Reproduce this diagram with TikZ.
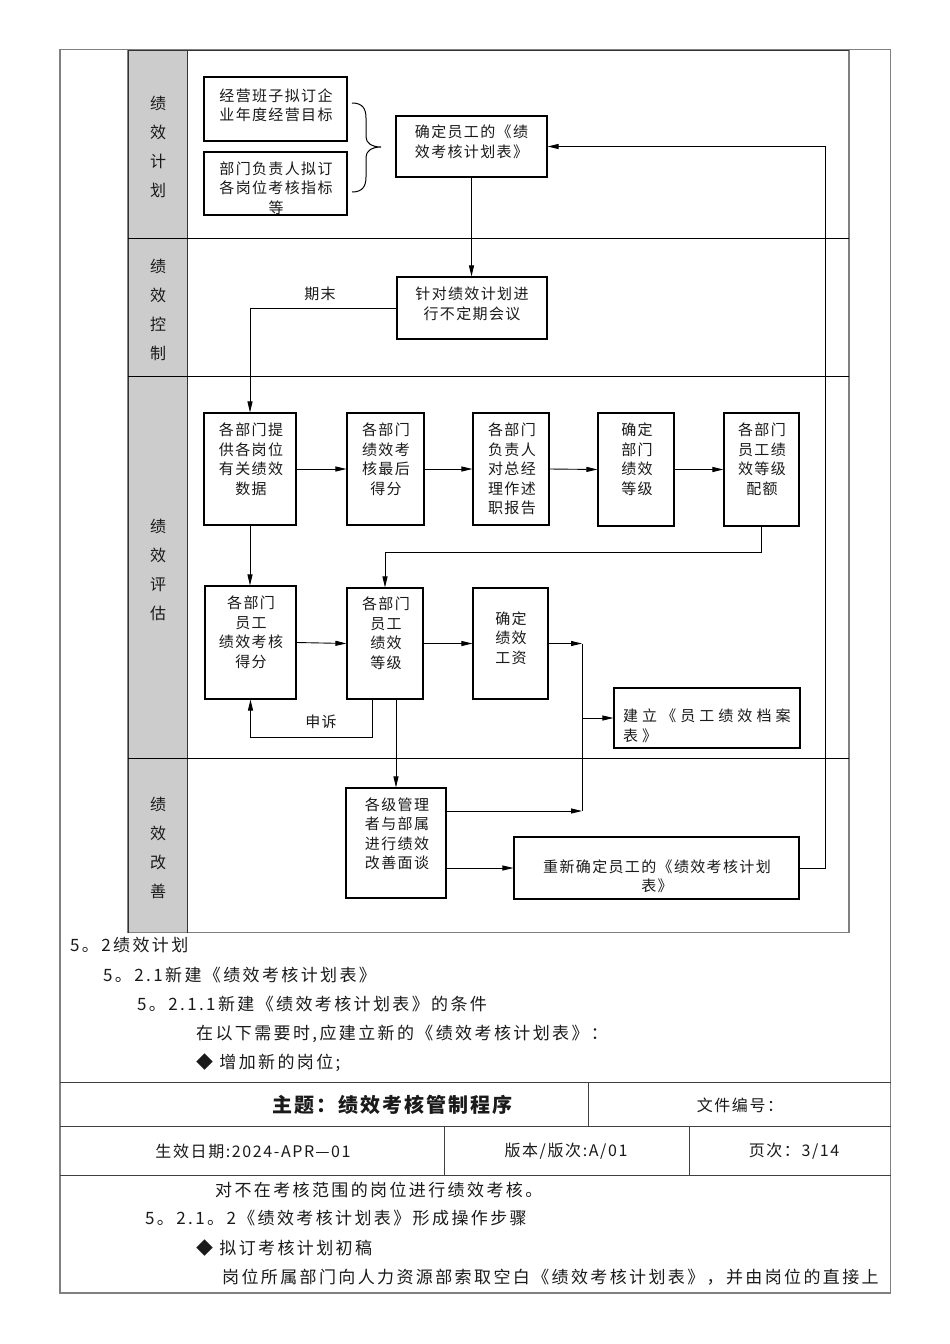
\documentclass[tikz,border=0pt]{standalone}
\usepackage{fontspec}
\setmainfont{Noto Sans CJK SC}
\newfontfamily\bodyf[LetterSpace=14]{Noto Sans CJK SC}
\newfontfamily\boxf[LetterSpace=9]{Noto Sans CJK SC}
\newfontfamily\widef[LetterSpace=27]{Noto Sans CJK SC}
\newfontfamily\headf[LetterSpace=10]{Noto Sans CJK SC}
\usetikzlibrary{arrows.meta,calc}
\definecolor{lanegray}{HTML}{CCCCCC}
\definecolor{framegray}{HTML}{808080}
\definecolor{ink}{HTML}{1A1A1A}
\begin{document}
\begin{tikzpicture}[x=1pt,y=-1pt,
  box/.style={draw=black, line width=1.1pt, inner sep=0pt, fill=white},
  txt/.style={inner sep=0pt, align=center, text=ink, font=\boxf\fontsize{15}{19.5}\selectfont},
  body/.style={anchor=west, inner sep=0pt, text=ink, font=\bodyf\fontsize{17}{20}\selectfont},
  hdr/.style={inner sep=0pt, text=ink, font=\headf\fontsize{16}{20}\selectfont},
  lane/.style={align=center, inner sep=0pt, text=ink, font=\fontsize{16}{29}\selectfont},
  conn/.style={line width=0.9pt, black},
  arr/.style={conn, -{Triangle[length=11pt,width=5pt]}},
  frameline/.style={draw=framegray, line width=1.3pt},
  rule/.style={draw=black!75, line width=1pt}
]
\useasboundingbox (0,0) rectangle (950,1344);
\fill[white] (0,0) rectangle (950,1344);

% ---------- page frame ----------
\draw[frameline] (60,49.5) rectangle (890.5,1293);
\draw[rule] (60,1082) -- (890.5,1082);
\draw[rule] (60,1126) -- (890.5,1126);
\draw[rule] (60,1175) -- (890.5,1175);
\draw[rule] (588,1082) -- (588,1126);
\draw[rule] (444,1126) -- (444,1175);
\draw[rule] (689,1126) -- (689,1175);

% ---------- swimlane frame ----------
\fill[lanegray] (128,50) rectangle (187,932.5);
\draw[frameline] (128,50) rectangle (849,932.5);
\draw[black!80, line width=1pt] (128,50) -- (849,50);
\draw[black!80, line width=1pt] (128,50) -- (128,932.5);
\draw[black!80, line width=1pt] (187,50) -- (187,932.5);
\draw[black, line width=1pt] (128,238) -- (849,238);
\draw[black, line width=1pt] (128,376) -- (849,376);
\draw[black, line width=1pt] (128,758) -- (849,758);

\node[lane] (l1) at (158,146.5) {绩\\效\\计\\划};
\node[lane] (l2) at (158,309.5) {绩\\效\\控\\制};
\node[lane] (l3) at (158,569.5) {绩\\效\\评\\估};
\node[lane] (l4) at (158,847.5) {绩\\效\\改\\善};

% ---------- boxes ----------
\node[box, minimum width=143pt, minimum height=64pt] (a1) at (275.5,109) {};
\node[box, minimum width=143pt, minimum height=63pt] (a2) at (275.5,183.5) {};
\node[box, minimum width=151pt, minimum height=61pt] (b) at (471.5,146.5) {};
\node[box, minimum width=150pt, minimum height=62pt] (c) at (472,308) {};

\node[box, minimum width=92pt, minimum height=112pt] (d1) at (250,469) {};
\node[box, minimum width=77pt, minimum height=112pt] (d2) at (385.5,469) {};
\node[box, minimum width=76pt, minimum height=112pt] (d3) at (511,469) {};
\node[box, minimum width=76pt, minimum height=113pt] (d4) at (636,469.5) {};
\node[box, minimum width=75pt, minimum height=113pt] (d5) at (761.5,469.5) {};

\node[box, minimum width=91pt, minimum height=113pt] (e1) at (250.5,642.5) {};
\node[box, minimum width=76pt, minimum height=111pt] (e2) at (385,643.5) {};
\node[box, minimum width=75pt, minimum height=111pt] (e3) at (510.5,643.5) {};
\node[box, minimum width=186pt, minimum height=60pt] (e4) at (707,718) {};

\node[box, minimum width=100pt, minimum height=110pt] (f) at (396,843) {};
\node[box, minimum width=285pt, minimum height=62pt] (g) at (656.5,868) {};

% ---------- box texts ----------
\node[txt] (a1t) at (276,105.5) {经营班子拟订企\\业年度经营目标};
\node[txt] (a2t) at (276,188) {部门负责人拟订\\各岗位考核指标\\等};
\node[txt] (bt) at (471.5,142) {确定员工的《绩\\效考核计划表》};
\node[txt] (ct) at (472,304) {针对绩效计划进\\行不定期会议};
\node[txt] (d1t) at (251,459.5) {各部门提\\供各岗位\\有关绩效\\数据};
\node[txt] (d2t) at (386,459.5) {各部门\\绩效考\\核最后\\得分};
\node[txt] (d3t) at (512,469) {各部门\\负责人\\对总经\\理作述\\职报告};
\node[txt] (d4t) at (637,459.5) {确定\\部门\\绩效\\等级};
\node[txt] (d5t) at (762,459.5) {各部门\\员工绩\\效等级\\配额};
\node[txt] (e1t) at (251,632.5) {各部门\\员工\\绩效考核\\得分};
\node[txt] (e2t) at (386,633) {各部门\\员工\\绩效\\等级};
\node[txt] (e3t) at (511,638) {确定\\绩效\\工资};
\node[txt, anchor=west, align=left, font=\widef\fontsize{15}{20}\selectfont] (e4t) at (623,726) {建立《员工绩效档案\\表》};
\node[txt] (ft) at (397,834) {各级管理\\者与部属\\进行绩效\\改善面谈};
\node[txt] (gt) at (657,876.5) {重新确定员工的《绩效考核计划\\表》};

% ---------- brace ----------
\draw[black, line width=1pt] (352,103) .. controls (362,103) and (366,108) .. (366,118)
  -- (366,137) .. controls (366,143) and (372,147) .. (381,147)
  .. controls (372,147) and (366,151) .. (366,157)
  -- (366,177) .. controls (366,187) and (362,192) .. (352,192);

% ---------- connectors ----------
\draw[arr] (b.south) -- (b.south |- c.north);
\draw[arr] (c.west) -| (d1.north);
\node[txt] (qimo) at (320,294) {期末};

\draw[arr] (d1.east) -- (d2.west);
\draw[arr] (d2.east) -- (d3.west);
\draw[arr] (d3.east) -- (d4.west);
\draw[arr] (d4.east) -- (d5.west);

\draw[arr] (d1.south) -- (d1.south |- e1.north);
\draw[arr] (d5.south) -- ++(0,26) -| (e2.north);

\draw[arr] (e1.east) -- (e2.west);
\draw[arr] (e2.east) -- (e3.west);

\coordinate (j1) at (582,643.5);
\coordinate (j2) at (582,811);
\draw[conn] (j1) -- (j2);
\draw[arr] (e3.east) -- (j1);
\draw[arr] (j1 |- e4.west) -- (e4.west);

\draw[arr] ([xshift=-13pt]e2.south) -- ++(0,38) -| (e1.south);
\node[txt] (shensu) at (321,722) {申诉};

\draw[arr] (f.north |- e2.south) -- (f.north);
\draw[arr] (f.east |- j2) -- (j2);
\draw[arr] (f.east |- g.west) -- (g.west);
\draw[arr] (g.east) -- ++(26,0) |- (b.east);

% ---------- body text ----------
\node[body] (t1) at (70,945) {5。2绩效计划};
\node[body] (t2) at (103,975) {5。2.1新建《绩效考核计划表》};
\node[body] (t3) at (137,1004) {5。2.1.1新建《绩效考核计划表》的条件};
\node[body] (t4) at (196,1034) {在以下需要时,应建立新的《绩效考核计划表》：};
\node[body] (t5) at (196,1063) {◆ 增加新的岗位;};

\node[hdr, font=\headf\fontsize{20}{24}\selectfont\bfseries] (h1) at (392,1105) {主题：绩效考核管制程序};
\node[hdr] (h2) at (740,1105) {文件编号：};
\node[hdr] (h3) at (253,1151) {生效日期:2024-APR—01};
\node[hdr] (h4) at (566,1151) {版本/版次:A/01};
\node[hdr] (h5) at (794,1151) {页次：3/14};

\node[body] (t6) at (215,1190) {对不在考核范围的岗位进行绩效考核。};
\node[body] (t7) at (145,1218) {5。2.1。2《绩效考核计划表》形成操作步骤};
\node[body] (t8) at (196,1248) {◆ 拟订考核计划初稿};
\node[body] (t9) at (222,1277) {岗位所属部门向人力资源部索取空白《绩效考核计划表》，并由岗位的直接上};
\end{tikzpicture}
\end{document}
